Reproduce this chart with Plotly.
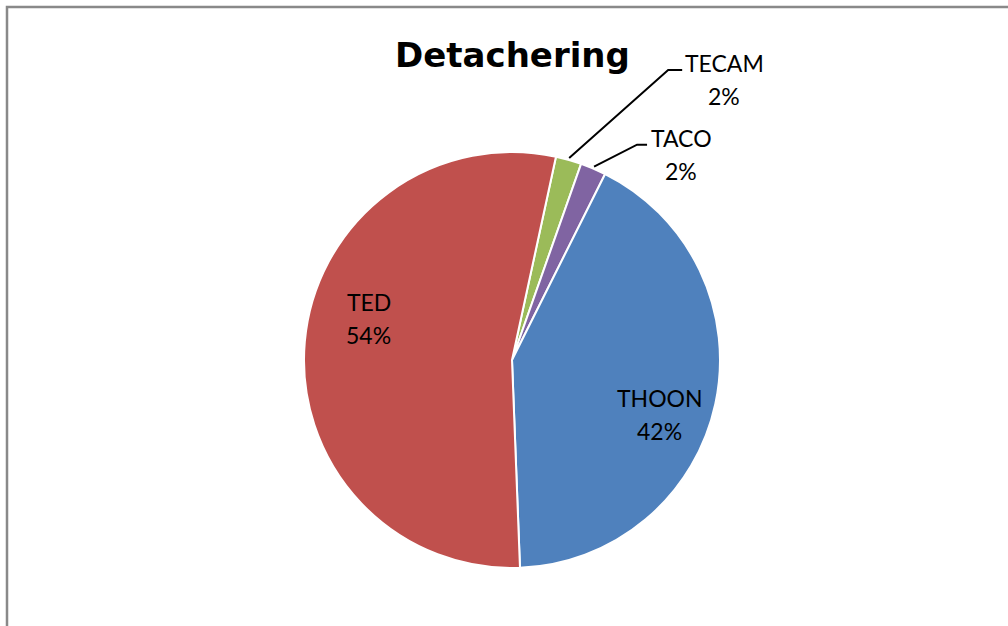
import math
import plotly.graph_objects as go

# Data
labels = ["TECAM", "TACO", "THOON", "TED"]
values = [1, 1, 21, 27]
colors = ["#9BBB59", "#8064A2", "#4F81BD", "#C0504D"]
title_text = "Detachering"

W, H = 1008, 626
CX, CY, R = 512, 360, 208
ROT = 12.2
FONT = "Lato"
FS = 23
LINE_GAP = 33

# label placement styles
# inside: (angle shift from slice mid in degrees, radius fraction)
inside_pos = {"THOON": (8.0, 0.758), "TED": (11.2, 0.716)}
# outside: (elbow dx, elbow dy, horizontal length, text center offset x)
outside_pos = {"TECAM": (99, -88, 14, 42), "TACO": (43, -22, 10, 34)}

total = sum(values)

fig = go.Figure(go.Pie(
    labels=labels, values=values, sort=False, direction="clockwise",
    rotation=ROT,
    marker=dict(colors=colors, line=dict(color="white", width=2)),
    textinfo="none",
    hoverinfo="label+percent",
    domain=dict(x=[(CX - R) / W, (CX + R) / W], y=[1 - (CY + R) / H, 1 - (CY - R) / H]),
    showlegend=False,
))


def px(x):
    return x / W


def py(y):
    return 1 - y / H


def txt(x, y, s, size=FS, bold=False, family=FONT):
    return dict(x=px(x), y=py(y), xref="paper", yref="paper",
                xanchor="center", yanchor="middle", showarrow=False,
                text=f"<b>{s}</b>" if bold else s,
                font=dict(family=family, size=size, color="black"))


shapes = []
annotations = []
cum = 0
for l, v in zip(labels, values):
    start = ROT + 360 * cum / total
    cum += v
    mid_deg = start + 180 * v / total
    pct = f"{100 * v / total:.0f}%"
    if l in inside_pos:
        shift, frac = inside_pos[l]
        a = math.radians(mid_deg + shift)
        lx = CX + frac * R * math.sin(a)
        ly = CY - frac * R * math.cos(a)
        annotations.append(txt(lx, ly - LINE_GAP / 2, l))
        annotations.append(txt(lx, ly + LINE_GAP / 2, pct))
    else:
        mid = math.radians(mid_deg)
        x0 = CX + (R + 2) * math.sin(mid)
        y0 = CY - (R + 2) * math.cos(mid)
        dx, dy, hl, tx = outside_pos[l]
        x1, y1 = x0 + dx, y0 + dy
        x2 = x1 + hl
        shapes.append(dict(type="path", xref="paper", yref="paper",
                           path=f"M {px(x0)} {py(y0)} L {px(x1)} {py(y1)} L {px(x2)} {py(y1)}",
                           line=dict(color="black", width=2)))
        annotations.append(txt(x2 + tx, y1 - 6.5, l))
        annotations.append(txt(x2 + tx, y1 - 6.5 + LINE_GAP, pct))

annotations.append(txt(512, 54.7, title_text, size=34, bold=True, family="DejaVu Sans"))

shapes.append(dict(type="rect", xref="paper", yref="paper",
                   x0=px(7), x1=1.05, y0=-0.05, y1=py(7),
                   line=dict(color="#898989", width=2.5)))

fig.update_layout(width=W, height=H, margin=dict(l=0, r=0, t=0, b=0),
                  paper_bgcolor="white", plot_bgcolor="white",
                  shapes=shapes, annotations=annotations)
fig.write_html("out.html", config={"displayModeBar": False},
               post_script="document.body.style.margin='0px';")
